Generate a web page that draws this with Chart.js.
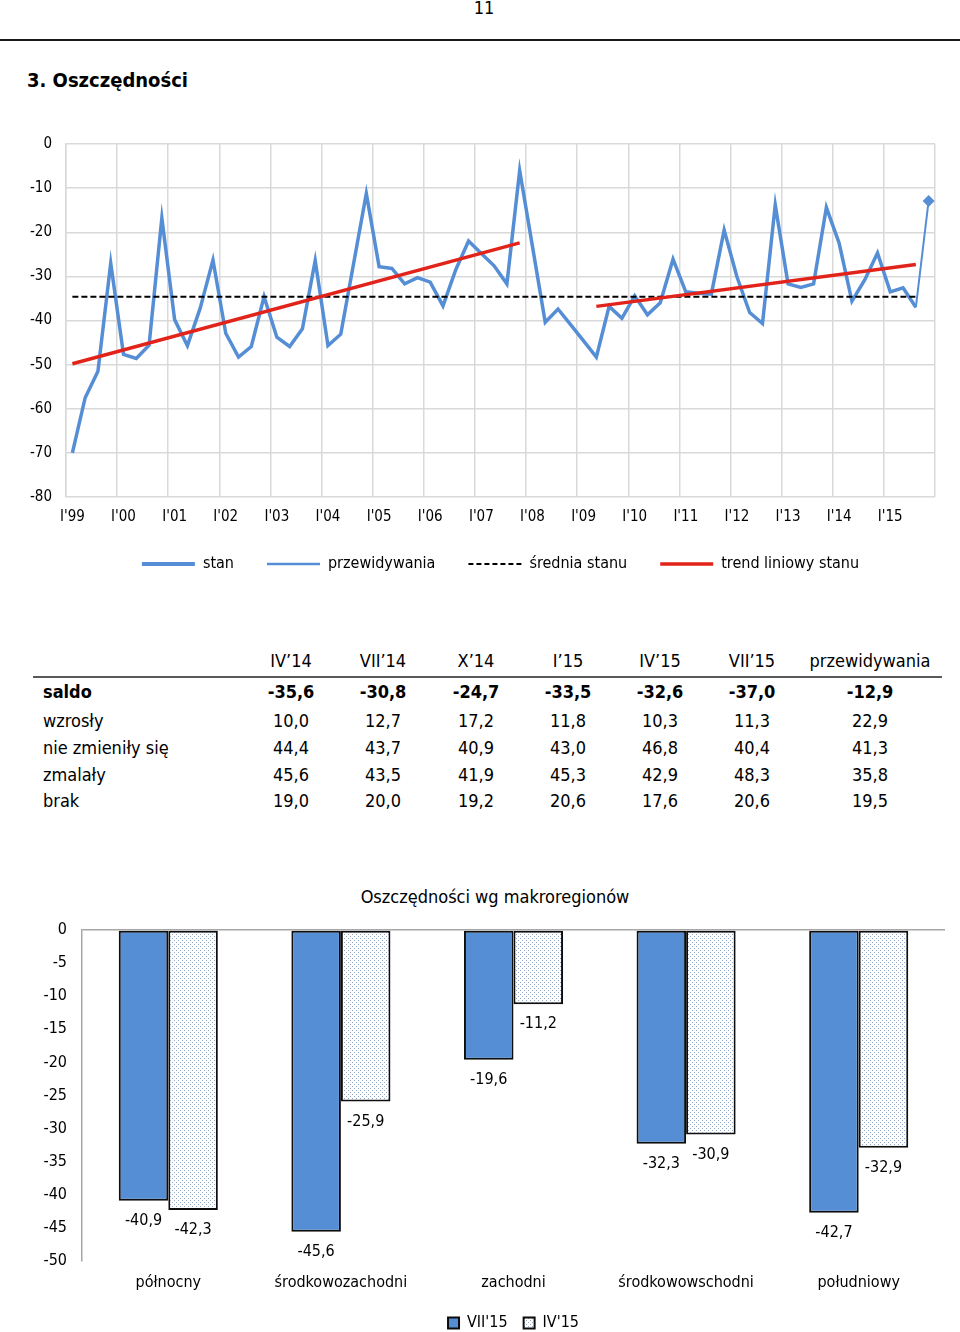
<!DOCTYPE html>
<html><head><meta charset="utf-8">
<script src="https://cdn.jsdelivr.net/npm/chart.js@4.4.0/dist/chart.umd.min.js"></script>
<style>
html,body{margin:0;padding:0;background:#fff;overflow:hidden;}
body{width:960px;height:1332px;position:relative;font-family:'DejaVu Sans Condensed','DejaVu Sans',sans-serif;color:#000;}
.abs{position:absolute;}
#pagenum{left:464px;top:-3px;width:40px;text-align:center;font-size:18px;line-height:22px;}
#rule{left:0;top:39px;width:960px;height:2px;background:#1a1a1a;}
#title{left:27px;top:66px;font-size:20px;font-weight:bold;line-height:28px;}
#lineWrap{left:0;top:120px;width:960px;height:462px;}
#barWrap{left:0;top:870px;width:960px;height:471px;}
#barTitle{left:295px;top:885px;width:400px;text-align:center;font-size:18px;line-height:24px;}
.cell{position:absolute;width:140px;text-align:center;font-size:18px;line-height:22px;white-space:nowrap;}
.rowlab{position:absolute;left:43px;font-size:18px;line-height:22px;white-space:nowrap;}
.bold{font-weight:bold;}
#tblRule{left:33px;top:676px;width:909px;height:2px;background:#595959;}
</style></head>
<body>
<div id="pagenum" class="abs">11</div>
<div id="rule" class="abs"></div>
<div id="title" class="abs">3. Oszczędności</div>
<div id="lineWrap" class="abs"><canvas id="lineChart"></canvas></div>
<div id="tblRule" class="abs"></div>
<div id="table"></div>
<div id="barTitle" class="abs">Oszczędności wg makroregionów</div>
<div id="barWrap" class="abs"><canvas id="barChart"></canvas></div>
<script>
// ---------- data: line chart ----------
const years = ['99','00','01','02','03','04','05','06','07','08','09','10','11','12','13','14','15'];
const quarterNames = ['I','IV','VII','X'];
const stan = [
  -70.0,-57.5,-51.5,-27.0,
  -47.7,-48.6,-45.6,-16.8,
  -39.8,-45.7,-37.2,-26.3,
  -42.9,-48.3,-45.9,-34.6,
  -43.8,-45.9,-41.9,-26.4,
  -45.7,-43.1,-27.2,-11.2,
  -27.8,-28.2,-31.7,-30.3,
  -31.3,-36.7,-28.5,-22.0,
  -24.8,-27.6,-31.7,-6.0,
  -23.2,-40.4,-37.4,-41.0,
  -44.6,-48.3,-36.8,-39.5,
  -34.4,-38.7,-36.0,-26.1,
  -33.5,-33.8,-34.0,-19.5,
  -30.1,-38.2,-40.7,-13.8,
  -31.7,-32.5,-31.7,-14.4,
  -22.5,-35.6,-30.8,-24.7,
  -33.5,-32.6,-37.0
];
const przewidywaniaPoints = [["VII'15", -37.0], ["X'15", -12.9]];
const sredniaPoints = [["I'99", -34.6], ["VII'15", -34.6]];
const trend1Points = [["I'99", -49.8], ["X'07", -22.4]];
const trend2Points = [["IV'09", -36.8], ["VII'15", -27.3]];
const lineYTicks = {min: -80, max: 0, step: 10};

// ---------- data: table ----------
const tableColumns = ['IV’14','VII’14','X’14','I’15','IV’15','VII’15','przewidywania'];
const rowLabels = ['saldo','wzrosły','nie zmieniły się','zmalały','brak'];
const saldo = [-35.6,-30.8,-24.7,-33.5,-32.6,-37.0,-12.9];
const wzrosly = [10.0,12.7,17.2,11.8,10.3,11.3,22.9];
const nieZmienily = [44.4,43.7,40.9,43.0,46.8,40.4,41.3];
const zmalaly = [45.6,43.5,41.9,45.3,42.9,48.3,35.8];
const brak = [19.0,20.0,19.2,20.6,17.6,20.6,19.5];

// ---------- data: bar chart ----------
const regions = ['północny','środkowozachodni','zachodni','środkowowschodni','południowy'];
const vii15 = [-40.9,-45.6,-19.6,-32.3,-42.7];
const iv15 = [-42.3,-25.9,-11.2,-30.9,-32.9];
const barYTicks = {min: -50, max: 0, step: 5};

// ---------- helpers ----------
const FONT = "'DejaVu Sans Condensed','DejaVu Sans',sans-serif";
Chart.defaults.font.family = FONT;
Chart.defaults.color = '#000';
const fmt = v => v.toFixed(1).replace('.', ',');
const pts = arr => arr.map(p => ({x: p[0], y: p[1]}));
const categories = [];
years.forEach(y => quarterNames.forEach(q => categories.push(q + "'" + y)));

// ---------- table ----------
(function buildTable(){
  const t = document.getElementById('table');
  const colX = [291, 383, 476, 568, 660, 752, 870];
  const rowY = [692, 721, 748, 775, 801];
  const rows = [saldo, wzrosly, nieZmienily, zmalaly, brak];
  tableColumns.forEach((c, j) => {
    const d = document.createElement('div');
    d.className = 'cell'; d.textContent = c;
    d.style.left = (colX[j] - 70) + 'px'; d.style.top = (661 - 11) + 'px';
    t.appendChild(d);
  });
  rows.forEach((vals, i) => {
    const l = document.createElement('div');
    l.className = 'rowlab' + (i === 0 ? ' bold' : '');
    l.textContent = rowLabels[i]; l.style.top = (rowY[i] - 11) + 'px';
    t.appendChild(l);
    vals.forEach((v, j) => {
      const d = document.createElement('div');
      d.className = 'cell' + (i === 0 ? ' bold' : '');
      d.textContent = fmt(v);
      d.style.left = (colX[j] - 70) + 'px'; d.style.top = (rowY[i] - 11) + 'px';
      t.appendChild(d);
    });
  });
})();

// ---------- line chart ----------
const BLUE = '#558ED5';
const RED = '#E2231A';
const GRID = '#D9D9D9';
const legendLineWidths = {stan: 4, przewidywania: 2.5, 'średnia stanu': 2, 'trend liniowy stanu': 3.5};
new Chart(document.getElementById('lineChart'), {
  type: 'line',
  data: {
    labels: categories,
    datasets: [
      {label: 'stan', data: stan, borderColor: BLUE, backgroundColor: BLUE, borderWidth: 3.5, pointRadius: 0, tension: 0, order: 3},
      {label: 'przewidywania', data: pts(przewidywaniaPoints), borderColor: BLUE, backgroundColor: BLUE, borderWidth: 2,
        pointStyle: 'rectRot', pointRadius: c => c.dataIndex === 1 ? 6 : 0, pointBorderWidth: 0, order: 3},
      {label: 'średnia stanu', data: pts(sredniaPoints), borderColor: '#000', backgroundColor: '#000', borderWidth: 2, borderDash: [6, 3], pointRadius: 0, order: 2},
      {label: 'trend liniowy stanu', data: pts(trend1Points), borderColor: RED, backgroundColor: RED, borderWidth: 3.5, pointRadius: 0, order: 1},
      {label: 'trend2', data: pts(trend2Points), borderColor: RED, backgroundColor: RED, borderWidth: 3.5, pointRadius: 0, order: 1}
    ]
  },
  options: {
    responsive: true, maintainAspectRatio: false, animation: false,
    layout: {padding: {left: 0, right: 25, top: 24, bottom: 0}},
    plugins: {
      tooltip: {enabled: false},
      legend: {
        position: 'bottom', fullSize: false,
        labels: {
          usePointStyle: true, pointStyle: 'line', pointStyleWidth: 53, padding: 33,
          font: {family: FONT, size: 16}, color: '#000',
          generateLabels: chart => Chart.defaults.plugins.legend.labels.generateLabels(chart).map(it => {
            const ds = chart.data.datasets[it.datasetIndex];
            it.pointStyle = 'line';
            it.strokeStyle = ds.borderColor;
            it.fillStyle = ds.borderColor;
            it.lineWidth = legendLineWidths[ds.label] || ds.borderWidth;
            it.lineDash = ds.borderDash ? [5, 3] : [];
            return it;
          }),
          filter: item => item.datasetIndex !== 4,
          sort: (a, b) => a.datasetIndex - b.datasetIndex
        }
      }
    },
    scales: {
      x: {
        type: 'category', offset: true,
        grid: {offset: true, drawTicks: false, lineWidth: 1.5,
          color: c => (c.index === undefined || c.index % 4 === 0) ? GRID : 'rgba(0,0,0,0)'},
        border: {display: false},
        ticks: {autoSkip: false, maxRotation: 0, minRotation: 0, padding: 11, color: '#000', font: {family: FONT, size: 15},
          callback: function(v, i){ const l = this.getLabelForValue(v); return l.startsWith("I'") ? l : ''; }},
        afterFit: s => { s.height = 26; }
      },
      y: {
        min: lineYTicks.min, max: lineYTicks.max,
        ticks: {stepSize: lineYTicks.step, padding: 14, color: '#000', font: {family: FONT, size: 15}},
        grid: {drawTicks: false, color: GRID, lineWidth: 1.5},
        border: {display: true, color: GRID, width: 1.5},
        afterFit: s => { s.width = 66; }
      }
    }
  }
});

// ---------- bar chart ----------
function makeDots() {
  const c = document.createElement('canvas'); c.width = 4; c.height = 4;
  const g = c.getContext('2d');
  g.fillStyle = '#ffffff'; g.fillRect(0, 0, 4, 4);
  g.fillStyle = '#8FA6C4'; g.fillRect(0, 0, 1, 1); g.fillRect(2, 2, 1, 1);
  return g.createPattern(c, 'repeat');
}
const barLabels = {
  id: 'barLabels',
  afterDatasetsDraw(chart) {
    const ctx = chart.ctx; ctx.save();
    ctx.font = '16px ' + FONT; ctx.fillStyle = '#000';
    ctx.textAlign = 'center'; ctx.textBaseline = 'middle';
    chart.data.datasets.forEach((ds, di) => {
      chart.getDatasetMeta(di).data.forEach((el, i) => {
        ctx.fillText(fmt(ds.data[i]), el.x, el.y + 20);
      });
    });
    ctx.restore();
  }
};
const AXIS = '#A6A6A6';
new Chart(document.getElementById('barChart'), {
  type: 'bar',
  data: {
    labels: regions,
    datasets: [
      {label: "VII'15", data: vii15, backgroundColor: BLUE, borderColor: '#0D0D0D', borderWidth: 2, borderSkipped: false,
        categoryPercentage: 0.574, barPercentage: 1.0},
      {label: "IV'15", data: iv15, backgroundColor: makeDots(), borderColor: '#0D0D0D', borderWidth: 2, borderSkipped: false,
        categoryPercentage: 0.574, barPercentage: 1.0}
    ]
  },
  plugins: [barLabels],
  options: {
    responsive: true, maintainAspectRatio: false, animation: false,
    layout: {padding: {left: 0, right: 15, top: 60, bottom: 0}},
    plugins: {
      tooltip: {enabled: false},
      legend: {position: 'bottom', fullSize: false,
        labels: {boxWidth: 11, boxHeight: 11, padding: 16, font: {family: FONT, size: 16}, color: '#000'}}
    },
    scales: {
      x: {grid: {display: false, drawTicks: false}, border: {display: false},
        ticks: {autoSkip: false, maxRotation: 0, minRotation: 0, padding: 12, color: '#000', font: {family: FONT, size: 16}},
        afterFit: s => { s.height = 38; }},
      y: {min: barYTicks.min, max: barYTicks.max,
        ticks: {stepSize: barYTicks.step, padding: 15, color: '#000', font: {family: FONT, size: 16}},
        grid: {drawTicks: false, lineWidth: 1.5, color: c => (c.tick && c.tick.value === 0) ? AXIS : 'rgba(0,0,0,0)'},
        border: {display: true, color: AXIS, width: 1.5},
        afterFit: s => { s.width = 82; }}
    }
  }
});
</script>
</body></html>
